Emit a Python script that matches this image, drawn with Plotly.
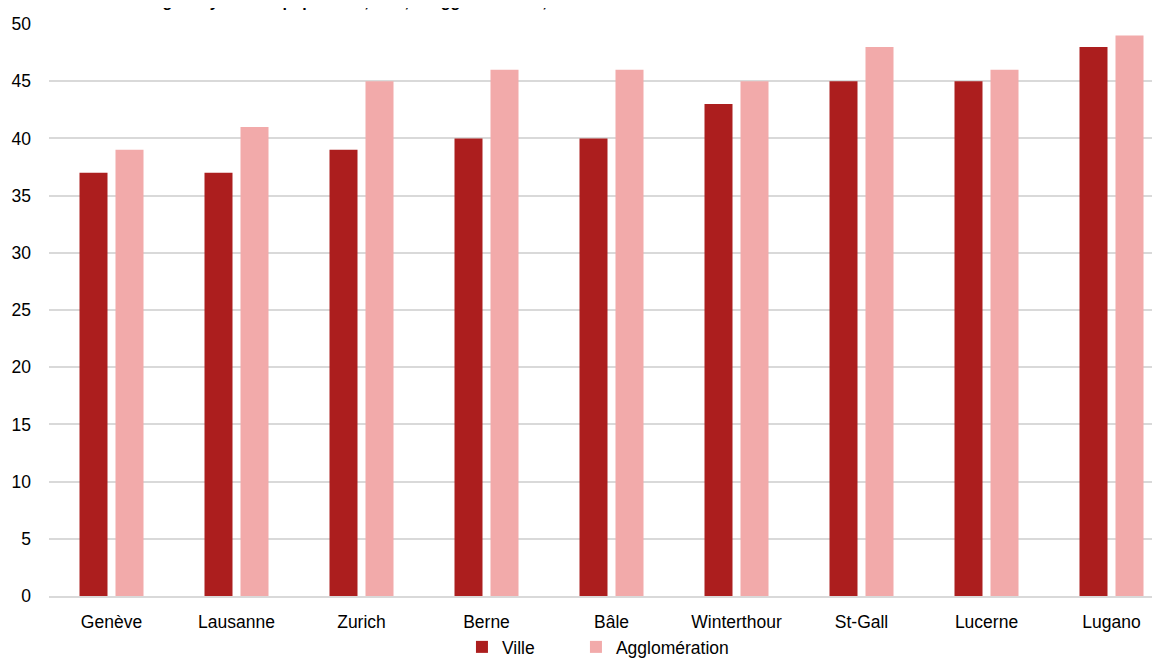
import plotly.graph_objects as go

categories = ["Genève", "Lausanne", "Zurich", "Berne", "Bâle", "Winterthour", "St-Gall", "Lucerne", "Lugano"]
ville = [37, 37, 39, 40, 40, 43, 45, 45, 48]
agglo = [39, 41, 45, 46, 46, 45, 48, 46, 49]
y_ticks = [0, 5, 10, 15, 20, 25, 30, 35, 40, 45, 50]

FONT = "Liberation Sans, Arial, sans-serif"

fig = go.Figure()
fig.add_trace(go.Bar(name="Ville", x=categories, y=ville, marker_color="#AC1E1E",
                     marker_line_width=0, legend="legend"))
fig.add_trace(go.Bar(name="Agglomération", x=categories, y=agglo, marker_color="#F2AAAA",
                     marker_line_width=0, legend="legend2"))

leg_common = dict(orientation="h", xanchor="left", y=-0.0577, yanchor="top",
                  font=dict(size=17.5), itemwidth=30, bgcolor="rgba(0,0,0,0)")

fig.update_layout(
    width=1152, height=651,
    margin=dict(l=41, r=0, t=16, b=63, autoexpand=False),
    paper_bgcolor="white", plot_bgcolor="white",
    barmode="group", bargap=0.424, bargroupgap=0.222,
    font=dict(family=FONT, size=17.5, color="#000000"),
    showlegend=True,
    legend=dict(x=0.3717, **leg_common),
    legend2=dict(x=0.4743, **leg_common),
    xaxis=dict(range=[-0.5, 8.388], showgrid=False, showline=True, linecolor="#D9D9D9",
               linewidth=1.5, ticks="", ticklabelstandoff=9, automargin=False),
    yaxis=dict(range=[0, 50], tickvals=y_ticks, showgrid=True, gridcolor="#D9D9D9",
               gridwidth=1.5, zeroline=False, showline=False, ticks="",
               ticklabelstandoff=17, automargin=False),
)
fig.add_annotation(text="<b>Âge moyen de la population, ville, et agglomération, 2015</b>",
                   xref="paper", yref="paper", x=0.09, y=1.0215, xanchor="left", yanchor="bottom",
                   showarrow=False, font=dict(family="Liberation Sans, Arial, sans-serif", size=16))

fig.write_html("out.html")
